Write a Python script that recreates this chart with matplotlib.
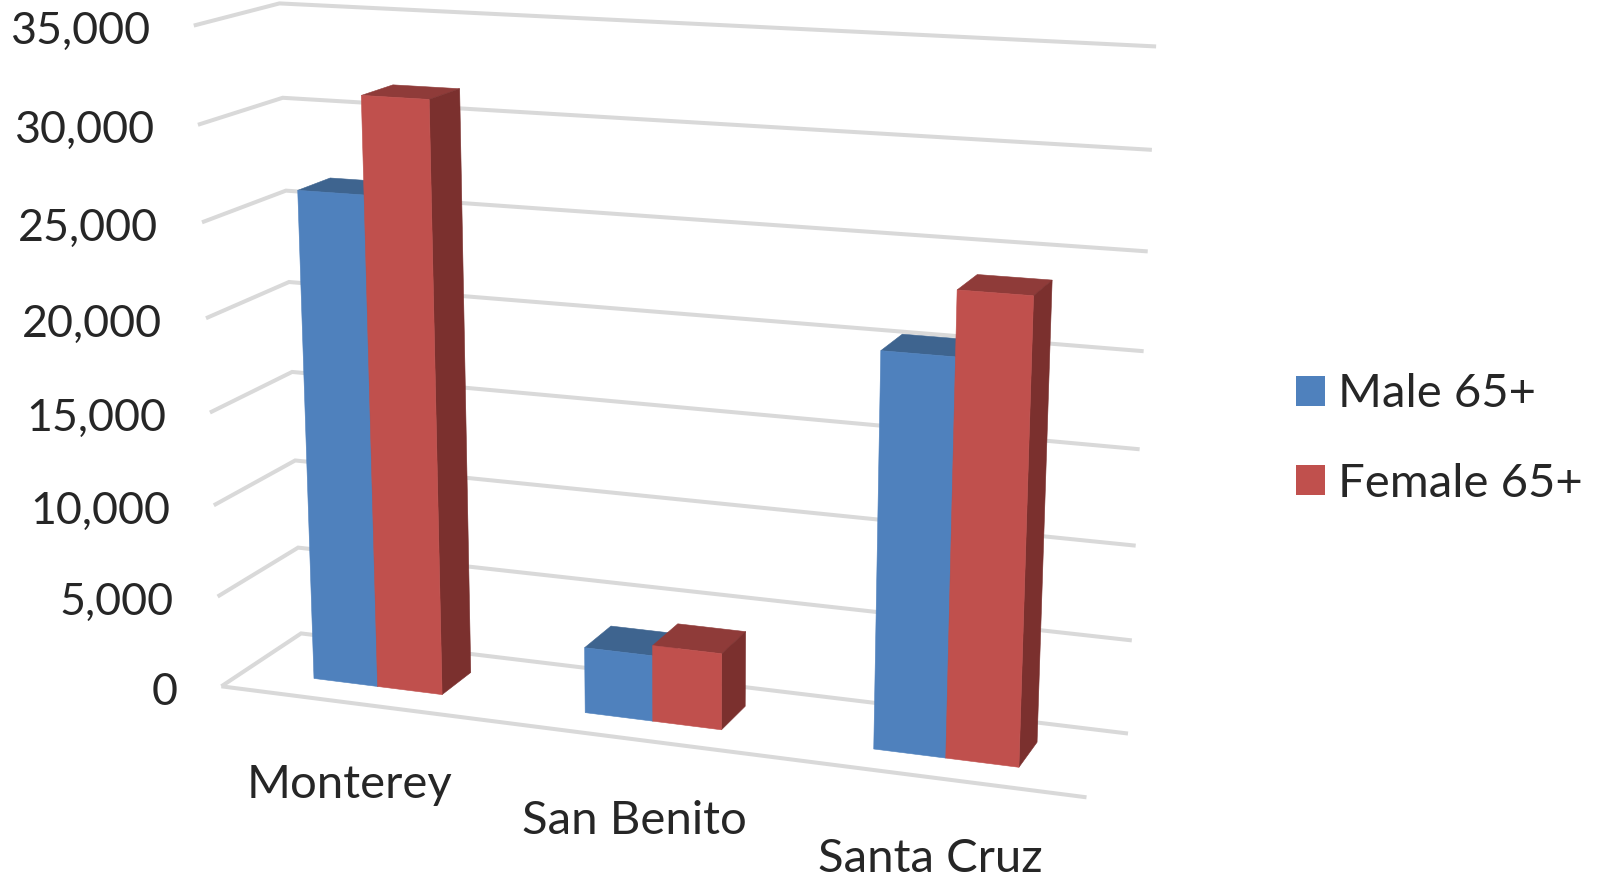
import numpy as np
import matplotlib
matplotlib.use("Agg")
import matplotlib.pyplot as plt
from matplotlib.patches import Polygon, Patch

plt.rcParams['font.family'] = ['Lato', 'DejaVu Sans']

categories = ["Monterey", "San Benito", "Santa Cruz"]
male_65 = [26420, 3550, 20550]
female_65 = [31500, 4100, 23840]
value_ticks = [0, 5000, 10000, 15000, 20000, 25000, 30000, 35000]
series_names = ["Male 65+", "Female 65+"]

VMAX = 35000
BAR_W = 0.08
Z0, Z1 = 0.30, 0.70
TICK_FS = 32.2
LABEL_FS = 34
TEXT = '#262626'
GRID = '#D9D9D9'
COL = {
    'm': ('#4F81BD', '#3E648F', '#2F4D71'),
    'f': ('#C0504D', '#8F3B39', '#7B302E'),
}
label_nudge = (-5, 1, 0)

# Camera calibration: reference pixel position of the chart box's corners
front_left = [(222, 686), (217, 597), (213, 505), (210, 412), (205, 319), (203, 222), (198, 125), (194, 26)]
back_left = [(301, 634), (297, 548), (296, 460), (294, 371), (289, 282), (286, 191), (282, 98), (279, 3)]
back_right = [(1128, 733), (1132, 641), (1135, 546), (1139, 449), (1144, 352), (1148, 251), (1152, 150), (1156, 46)]
front_right_floor = (1087, 797)

world, image = [], []
for k, v in enumerate(value_ticks):
    world += [(0, v / VMAX, 0), (0, v / VMAX, 1), (1, v / VMAX, 1)]
    image += [front_left[k], back_left[k], back_right[k]]
world.append((1, 0, 0))
image.append(front_right_floor)

rows = []
for (X, Y, Z), (u, w) in zip(world, image):
    u, w = u / 1000, w / 1000
    rows.append([X, Y, Z, 1, 0, 0, 0, 0, -u * X, -u * Y, -u * Z, -u])
    rows.append([0, 0, 0, 0, X, Y, Z, 1, -w * X, -w * Y, -w * Z, -w])
P = np.linalg.svd(np.array(rows, float))[2][-1].reshape(3, 4)


def proj(x, v, z):
    h = P @ np.array([x, v / VMAX, z, 1.0])
    return (1000 * h[0] / h[2], 1000 * h[1] / h[2])


fig = plt.figure(figsize=(16, 8.76), dpi=100)
ax = fig.add_axes([0, 0, 1, 1])
ax.set_xlim(0, 1600)
ax.set_ylim(876, 0)
ax.axis('off')

# gridlines and tick labels
for v in value_ticks:
    pts = [proj(0, v, 0), proj(0, v, 1), proj(1, v, 1)]
    ax.plot(*zip(*pts), color=GRID, lw=2.9, solid_capstyle='butt', solid_joinstyle='miter', zorder=1)
    fx, fy = pts[0]
    ax.text(fx - 44, fy + 6, f"{v:,}", ha='right', va='center', fontsize=TICK_FS, color=TEXT)
ax.plot(*zip(proj(0, 0, 0), proj(1, 0, 0)), color=GRID, lw=2.9, solid_capstyle='butt', zorder=1)


def bar(x0, x1, v, key, z):
    front, top, side = COL[key]
    faces = [
        ([(x0, v, Z0), (x0, v, Z1), (x1, v, Z1), (x1, v, Z0)], top),
        ([(x1, 0, Z0), (x1, 0, Z1), (x1, v, Z1), (x1, v, Z0)], side),
        ([(x0, 0, Z0), (x1, 0, Z0), (x1, v, Z0), (x0, v, Z0)], front),
    ]
    for corners, col in faces:
        ax.add_patch(Polygon([proj(*c) for c in corners], closed=True, facecolor=col,
                             edgecolor=col, lw=0.4, zorder=z))


for i, name in enumerate(categories):
    c = (i + 0.5) / 3
    bar(c - BAR_W, c, male_65[i], 'm', 2 + 2 * i)
    bar(c, c + BAR_W, female_65[i], 'f', 3 + 2 * i)
    lx, ly = proj(c, 0, 0)
    ax.text(lx + label_nudge[i], ly + 82, name, ha='center', va='center', fontsize=LABEL_FS, color=TEXT)

handles = [Patch(facecolor=COL['m'][0], label=series_names[0]),
           Patch(facecolor=COL['f'][0], label=series_names[1])]
ax.legend(handles=handles, loc='center left', bbox_to_anchor=(1296 / 1600, 1 - 439 / 876),
          frameon=False, fontsize=LABEL_FS, handlelength=0.61, handleheight=0.61,
          handletextpad=0.27, labelspacing=1.0, borderpad=0, borderaxespad=0,
          labelcolor=TEXT)

fig.savefig('out.png', dpi=100)
